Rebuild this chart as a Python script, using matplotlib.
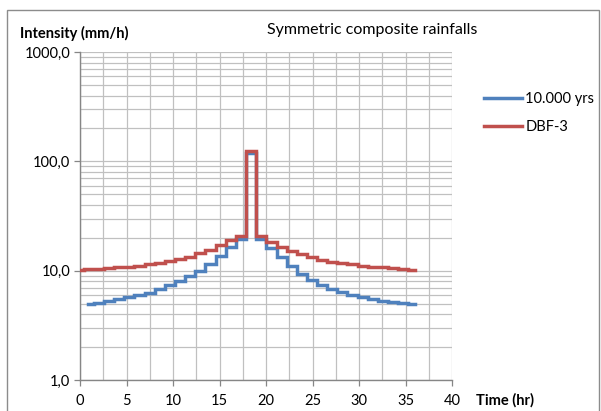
import numpy as np
import matplotlib
matplotlib.use('Agg')
import matplotlib.pyplot as plt
from matplotlib.ticker import FixedLocator, NullFormatter

# block edges (hr) and block intensities (mm/h)
t_blue = [0.9, 1.5, 2.59, 3.68, 4.77, 5.86, 6.95, 8.04, 9.13, 10.22, 11.31, 12.4,
          13.49, 14.58, 15.67, 16.76, 17.85, 18.95, 20.04, 21.13, 22.22, 23.31,
          24.4, 25.49, 26.58, 27.67, 28.76, 29.85, 30.94, 32.03, 33.12, 34.21,
          35.3, 36.0]
i_blue = [4.95, 5.1, 5.25, 5.45, 5.7, 5.95, 6.3, 6.8, 7.4, 8.1, 9.0, 10.0, 11.5,
          13.7, 16.3, 19.4, 120.0, 19.3, 16.2, 13.2, 11.1, 9.4, 8.2, 7.4, 6.8,
          6.35, 6.0, 5.75, 5.5, 5.3, 5.15, 5.05, 4.95]

t_red = [0.0, 0.41, 1.5, 2.59, 3.68, 4.77, 5.86, 6.95, 8.04, 9.13, 10.22, 11.31,
         12.4, 13.49, 14.58, 15.67, 16.76, 17.85, 18.95, 20.04, 21.13, 22.22,
         23.31, 24.4, 25.49, 26.58, 27.67, 28.76, 29.85, 30.94, 32.03, 33.12,
         34.21, 35.3, 36.0]
i_red = [10.2, 10.3, 10.4, 10.55, 10.7, 10.9, 11.1, 11.4, 11.8, 12.2, 12.7, 13.4,
         14.4, 15.6, 17.1, 18.9, 20.9, 125.0, 20.6, 18.2, 16.4, 15.1, 14.1, 13.3,
         12.6, 12.1, 11.7, 11.4, 11.1, 10.9, 10.7, 10.5, 10.3, 10.2]

labels = ['10.000 yrs', 'DBF-3']
x_ticks = [0, 5, 10, 15, 20, 25, 30, 35, 40]
y_ticks = [1, 10, 100, 1000]
y_labels = ['1,0', '10,0', '100,0', '1000,0']

plt.rcParams['font.family'] = ['Lato', 'DejaVu Sans']

fig = plt.figure(figsize=(6.01, 4.11), dpi=100)
# chart area border (bottom edge lies below the picture)
fig.patches.append(plt.Rectangle((7 / 601, -0.05), 592 / 601, 1.05 - 10 / 411,
                                 transform=fig.transFigure, fill=False,
                                 edgecolor='#8c8c8c', linewidth=1.0))
ax = fig.add_axes([80 / 601, 1 - 380 / 411, 372 / 601, 328 / 411])


def steps(t, v):
    xs, ys = [], []
    for k in range(len(v)):
        xs += [t[k], t[k + 1]]
        ys += [v[k], v[k]]
    return xs, ys


bx, by = steps(t_blue, i_blue)
rx, ry = steps(t_red, i_red)
ax.plot(bx, by, color='#4F81BD', linewidth=2.5, label=labels[0],
        solid_joinstyle='miter', zorder=3)
ax.plot(rx, ry, color='#C0504D', linewidth=2.5, label=labels[1],
        solid_joinstyle='miter', zorder=4)

ax.set_yscale('log')
ax.set_xlim(0, 40)
ax.set_ylim(1, 1000)
ax.set_xticks(x_ticks)
ax.set_xticks(np.arange(0, 40.1, 2.5), minor=True)
ax.yaxis.set_major_locator(FixedLocator(y_ticks))
ax.set_yticklabels(y_labels)
ax.yaxis.set_minor_formatter(NullFormatter())
ax.grid(True, which='both', color='#c0c0c0', linewidth=0.9)
ax.set_axisbelow(True)
ax.tick_params(which='minor', length=0)
ax.tick_params(which='major', length=4, width=0.9, color='#868686',
               labelsize=10.5, pad=3)
ax.tick_params(axis='x', pad=6)
for s in ['top', 'right']:
    ax.spines[s].set_visible(False)
for s in ['left', 'bottom']:
    ax.spines[s].set_color('#868686')
    ax.spines[s].set_linewidth(1.0)

fig.text(20 / 601, 1 - 33 / 411, 'Intensity (mm/h)', fontsize=10.5,
         fontweight='bold', va='center', ha='left')
fig.text(372 / 601, 1 - 30 / 411, 'Symmetric composite rainfalls',
         fontsize=11.5, va='center', ha='center')
fig.text(476 / 601, 1 - 400 / 411, 'Time (hr)', fontsize=10.5,
         fontweight='bold', va='center', ha='left')

fig.legend(loc='upper left', bbox_to_anchor=(478 / 601, 1 - 86 / 411),
           frameon=False, fontsize=10.5, handlelength=2.6, handletextpad=0.25,
           labelspacing=1.0, borderaxespad=0)

fig.savefig('out.png', dpi=100)
